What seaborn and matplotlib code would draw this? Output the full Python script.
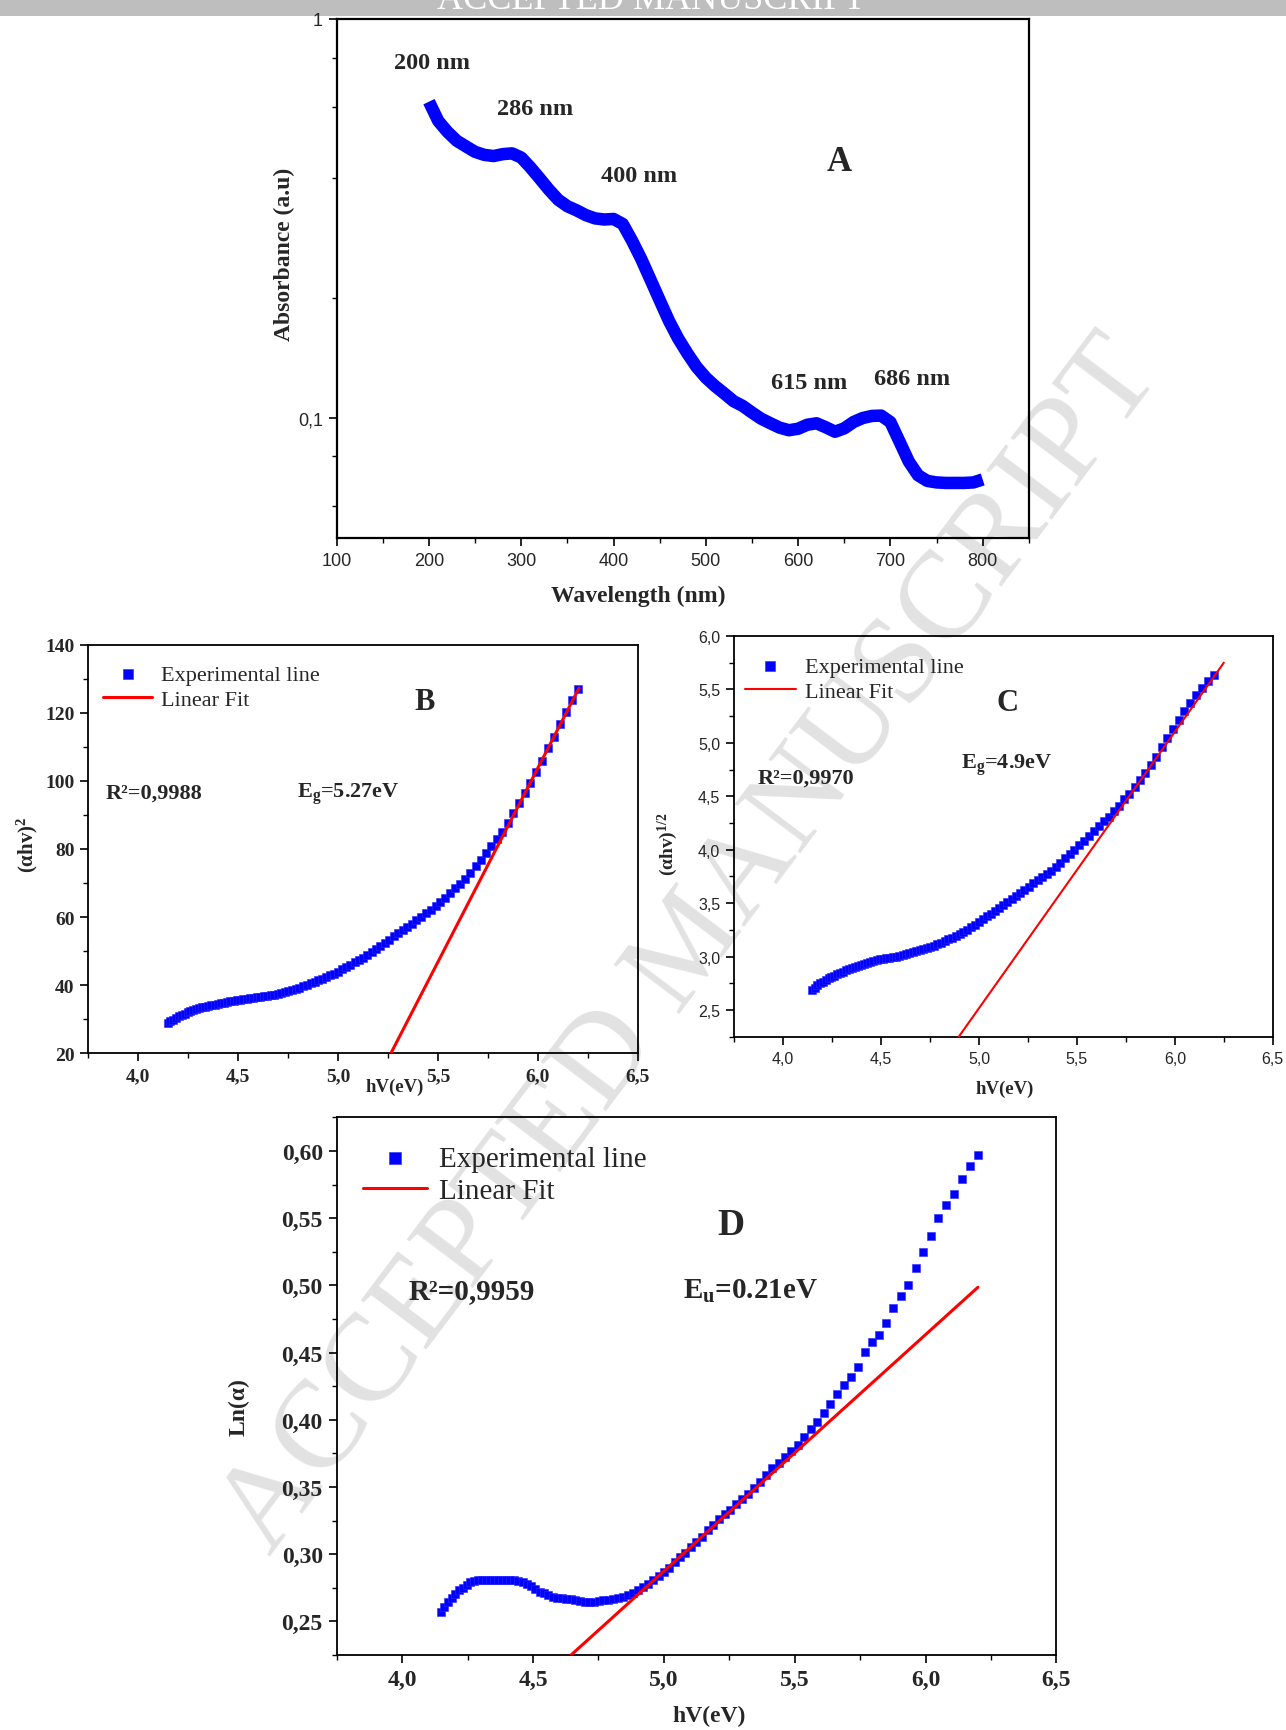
import numpy as np
import pandas as pd
import matplotlib
matplotlib.use("Agg")
import matplotlib.pyplot as plt
from matplotlib import ticker
import seaborn as sns

# ---------------- data ----------------
# Panel A : absorbance spectrum
A_wavelength = [200, 210, 220, 230, 240, 250, 260, 270, 280, 290,
                300, 310, 320, 330, 340, 350, 360, 370, 380, 390,
                400, 410, 420, 430, 440, 450, 460, 470, 480, 490,
                500, 510, 520, 530, 540, 550, 560, 570, 580, 590,
                600, 610, 620, 630, 640, 650, 660, 670, 680, 690,
                700, 710, 720, 730, 740, 750, 760, 770, 780, 790, 800]
A_absorbance = [0.620, 0.555, 0.521, 0.495, 0.479, 0.464, 0.456, 0.453, 0.458, 0.460,
                0.449, 0.424, 0.398, 0.373, 0.352, 0.339, 0.331, 0.322, 0.316, 0.314,
                0.315, 0.306, 0.278, 0.250, 0.222, 0.197, 0.175, 0.158, 0.145, 0.134,
                0.126, 0.120, 0.115, 0.110, 0.107, 0.103, 0.0994, 0.0968, 0.0944, 0.0930,
                0.0938, 0.0960, 0.0968, 0.0946, 0.0922, 0.0940, 0.0975, 0.0998, 0.1010, 0.1012,
                0.0975, 0.0870, 0.0776, 0.0717, 0.0694, 0.0688, 0.0686, 0.0686, 0.0686, 0.0688, 0.0700]
A_peaks = ["200 nm", "286 nm", "400 nm", "615 nm", "686 nm"]

# photon energies (eV) shared by panels B, C, D
energy = [4.147, 4.161, 4.175, 4.189, 4.203, 4.218, 4.232, 4.247, 4.261, 4.276,
          4.291, 4.306, 4.321, 4.336, 4.351, 4.366, 4.382, 4.397, 4.413, 4.429,
          4.444, 4.460, 4.477, 4.493, 4.509, 4.526, 4.542, 4.559, 4.576, 4.593,
          4.610, 4.627, 4.644, 4.662, 4.679, 4.697, 4.715, 4.733, 4.751, 4.769,
          4.788, 4.806, 4.825, 4.844, 4.863, 4.882, 4.901, 4.921, 4.940, 4.960,
          4.980, 5.000, 5.020, 5.041, 5.061, 5.082, 5.103, 5.124, 5.145, 5.167,
          5.188, 5.210, 5.232, 5.254, 5.277, 5.299, 5.322, 5.345, 5.368, 5.391,
          5.415, 5.439, 5.463, 5.487, 5.511, 5.536, 5.561, 5.586, 5.611, 5.636,
          5.662, 5.688, 5.714, 5.741, 5.767, 5.794, 5.822, 5.849, 5.877, 5.905,
          5.933, 5.962, 5.990, 6.019, 6.049, 6.078, 6.108, 6.139, 6.169, 6.200]

# Panel B : (alpha h v)^2
B_values = [28.9, 29.4, 29.9, 30.3, 30.8, 31.2, 31.6, 32.0, 32.3, 32.6,
            32.9, 33.2, 33.5, 33.7, 33.9, 34.1, 34.3, 34.5, 34.7, 34.8,
            35.0, 35.2, 35.4, 35.5, 35.7, 35.8, 36.0, 36.1, 36.3, 36.4,
            36.6, 36.7, 36.9, 37.0, 37.2, 37.4, 37.7, 38.0, 38.3, 38.6,
            38.9, 39.3, 39.7, 40.1, 40.6, 41.0, 41.4, 41.9, 42.4, 42.9,
            43.4, 44.0, 44.6, 45.3, 46.0, 46.7, 47.4, 48.1, 48.9, 49.8,
            50.6, 51.5, 52.4, 53.3, 54.3, 55.2, 56.2, 57.1, 58.0, 59.0,
            60.0, 61.1, 62.2, 63.3, 64.4, 65.7, 67.0, 68.4, 69.7, 71.2,
            73.0, 74.9, 76.8, 78.9, 80.8, 82.9, 85.0, 87.6, 90.5, 93.5,
            96.5, 99.4, 102.5, 106.0, 109.6, 113.0, 116.7, 120.3, 123.7, 127.0]
B_fit_x = [5.264, 6.205]
B_fit_y = [20.0, 127.3]

# Panel C : (alpha h v)^1/2
C_values = [2.690, 2.710, 2.730, 2.750, 2.765, 2.780, 2.795, 2.810, 2.820, 2.835,
            2.850, 2.860, 2.870, 2.880, 2.895, 2.905, 2.915, 2.925, 2.935, 2.940,
            2.950, 2.960, 2.965, 2.975, 2.980, 2.985, 2.990, 2.995, 3.000, 3.005,
            3.015, 3.020, 3.030, 3.040, 3.050, 3.060, 3.070, 3.080, 3.090, 3.100,
            3.115, 3.130, 3.145, 3.160, 3.175, 3.190, 3.210, 3.230, 3.250, 3.275,
            3.300, 3.325, 3.350, 3.375, 3.400, 3.430, 3.455, 3.480, 3.510, 3.540,
            3.565, 3.595, 3.625, 3.655, 3.685, 3.715, 3.745, 3.775, 3.805, 3.840,
            3.880, 3.920, 3.960, 4.000, 4.040, 4.085, 4.130, 4.175, 4.220, 4.265,
            4.310, 4.360, 4.410, 4.470, 4.525, 4.585, 4.655, 4.720, 4.795, 4.870,
            4.960, 5.045, 5.130, 5.215, 5.300, 5.375, 5.445, 5.515, 5.575, 5.635]
C_fit_x = [4.897, 6.250]
C_fit_y = [2.25, 5.75]

# Panel D : Ln(alpha)
D_values = [0.257, 0.261, 0.264, 0.267, 0.270, 0.273, 0.275, 0.277, 0.279, 0.280,
            0.2805, 0.281, 0.281, 0.281, 0.281, 0.281, 0.281, 0.281, 0.281, 0.2805,
            0.280, 0.279, 0.278, 0.276, 0.274, 0.272, 0.271, 0.2695, 0.268, 0.267,
            0.267, 0.2665, 0.2665, 0.266, 0.265, 0.2645, 0.264, 0.2645, 0.265, 0.2655,
            0.266, 0.2665, 0.267, 0.268, 0.2695, 0.271, 0.273, 0.2755, 0.278, 0.2805,
            0.284, 0.287, 0.290, 0.294, 0.2975, 0.301, 0.305, 0.309, 0.313, 0.318,
            0.322, 0.326, 0.330, 0.333, 0.337, 0.341, 0.345, 0.349, 0.354, 0.359,
            0.364, 0.368, 0.372, 0.377, 0.381, 0.387, 0.393, 0.398, 0.405, 0.412,
            0.419, 0.426, 0.432, 0.439, 0.4505, 0.458, 0.463, 0.472, 0.483, 0.492,
            0.5005, 0.513, 0.525, 0.537, 0.550, 0.560, 0.568, 0.579, 0.589, 0.597]
D_fit_x = [4.646, 6.200]
D_fit_y = [0.225, 0.4985]

# tick labels
A_xticks = [100, 200, 300, 400, 500, 600, 700, 800]
A_xticklabels = ["100", "200", "300", "400", "500", "600", "700", "800"]
A_yticks = [0.1, 1.0]
A_yticklabels = ["0,1", "1"]
E_ticks = [4.0, 4.5, 5.0, 5.5, 6.0, 6.5]
E_ticklabels = ["4,0", "4,5", "5,0", "5,5", "6,0", "6,5"]
B_yticks = [20, 40, 60, 80, 100, 120, 140]
B_yticklabels = ["20", "40", "60", "80", "100", "120", "140"]
C_yticks = [2.5, 3.0, 3.5, 4.0, 4.5, 5.0, 5.5, 6.0]
C_yticklabels = ["2,5", "3,0", "3,5", "4,0", "4,5", "5,0", "5,5", "6,0"]
D_yticks = [0.25, 0.30, 0.35, 0.40, 0.45, 0.50, 0.55, 0.60]
D_yticklabels = ["0,25", "0,30", "0,35", "0,40", "0,45", "0,50", "0,55", "0,60"]

# ---------------- style ----------------
sns.set_style("ticks")
SERIF = "Liberation Serif"
SANS = "Liberation Sans"
plt.rcParams["font.family"] = [SERIF, "DejaVu Serif"]
plt.rcParams["mathtext.fontset"] = "custom"
plt.rcParams["mathtext.rm"] = "Liberation Serif:bold"
plt.rcParams["mathtext.it"] = "Liberation Serif:bold"
plt.rcParams["mathtext.bf"] = "Liberation Serif:bold"

BLUE = "#0000ff"
RED = "#ff0000"

W, H = 1286, 1731
fig = plt.figure(figsize=(W / 100, H / 100), dpi=100)


def px_axes(left, right, top, bottom):
    ax = fig.add_axes([left / W, 1 - bottom / H, (right - left) / W, (bottom - top) / H])
    ax.set_zorder(2)
    ax.patch.set_facecolor("none")
    return ax


def setup(ax, xlim, ylim, xt, xtl, yt, ytl, xminor, yminor, fam, size, weight, spine_lw=1.3):
    ax.set_xlim(*xlim)
    ax.set_ylim(*ylim)
    ax.set_xticks(xt, labels=xtl, fontsize=size, fontfamily=fam, fontweight=weight)
    ax.set_yticks(yt, labels=ytl, fontsize=size, fontfamily=fam, fontweight=weight)
    ax.set_xticks(xminor, minor=True)
    ax.set_yticks(yminor, minor=True)
    ax.xaxis.set_minor_formatter(ticker.NullFormatter())
    ax.yaxis.set_minor_formatter(ticker.NullFormatter())
    for s in ax.spines.values():
        s.set_visible(True)
        s.set_linewidth(spine_lw)
        s.set_color("black")
    ax.tick_params(which="major", direction="out", length=6, width=1.2, color="black", pad=4)
    ax.tick_params(which="minor", direction="out", length=3.5, width=1.0, color="black")


def set_label(ax, axis, text, x, y, size):
    lab = ax.xaxis.label if axis == "x" else ax.yaxis.label
    if axis == "x":
        ax.set_xlabel(text, fontsize=size, fontweight="bold", fontfamily=SERIF)
        ax.xaxis.set_label_coords(x, y)
    else:
        ax.set_ylabel(text, fontsize=size, fontweight="bold", fontfamily=SERIF)
        ax.yaxis.set_label_coords(x, y)
    lab.set_va("center")
    lab.set_ha("center")


# ---------------- Panel A ----------------
axA = px_axes(336.7, 1028.8, 19.9, 538.7)
dfA = pd.DataFrame({"wl": A_wavelength, "abs": A_absorbance})
sns.lineplot(data=dfA, x="wl", y="abs", ax=axA, color=BLUE, lw=9,
             solid_joinstyle="round", solid_capstyle="butt")
axA.set_yscale("log")
setup(axA, (100, 850), (0.05, 1.0), A_xticks, A_xticklabels, A_yticks, A_yticklabels,
      np.arange(150, 851, 100), [0.06, 0.08, 0.2, 0.4, 0.6, 0.8], SANS, 13, "normal", 1.6)
set_label(axA, "x", "Wavelength (nm)", 0.435, -0.111, 17)
set_label(axA, "y", "Absorbance (a.u)", -0.075, 0.549, 17)
peak_pos = [(0.137, 0.915), (0.287, 0.828), (0.437, 0.698), (0.683, 0.300), (0.831, 0.306)]
for lab, (px, py) in zip(A_peaks, peak_pos):
    axA.text(px, py, lab, transform=axA.transAxes, ha="center", va="center",
             fontsize=17.5, fontweight="bold", fontfamily=SERIF)
axA.text(0.726, 0.7255, "A", transform=axA.transAxes, ha="center", va="center",
         fontsize=25, fontweight="bold", fontfamily=SERIF)


def energy_panel(ax, values, fit_x, fit_y, ylim, yt, ytl, yminor, tick_fam, tick_size,
                 tick_weight, msize, fit_lw, legend_anchor, legend_size, markerscale,
                 handlelength):
    df = pd.DataFrame({"E": energy, "v": values})
    sns.scatterplot(data=df, x="E", y="v", ax=ax, marker="s", s=msize, color=BLUE,
                    edgecolor="#2a2aff", linewidth=0.4, label="Experimental line", zorder=2)
    dff = pd.DataFrame({"E": fit_x, "v": fit_y})
    sns.lineplot(data=dff, x="E", y="v", ax=ax, color=RED, lw=fit_lw, label="Linear Fit",
                 zorder=3)
    setup(ax, (3.75, 6.5), ylim, E_ticks, E_ticklabels, yt, ytl,
          np.arange(3.75, 6.51, 0.25), yminor, tick_fam, tick_size, tick_weight)
    h, l = ax.get_legend_handles_labels()
    ax.legend(h, l, loc="upper left", bbox_to_anchor=legend_anchor, frameon=False,
              prop={"family": SERIF, "size": legend_size}, handlelength=handlelength,
              handletextpad=0.4, labelspacing=0.2, borderpad=0, borderaxespad=0,
              markerscale=markerscale)


# ---------------- Panel B ----------------
axB = px_axes(88.3, 638.0, 645.8, 1054.2)
energy_panel(axB, B_values, B_fit_x, B_fit_y, (20, 140), B_yticks, B_yticklabels,
             np.arange(20, 141, 10), SERIF, 14, "bold", 30, 2.2, (0.027, 0.952), 16, 1.3, 2.2)
set_label(axB, "x", "hV(eV)", 0.558, -0.081, 13.5)
set_label(axB, "y", "(αhv)$^{\\rm 2}$", -0.110, 0.512, 15)
axB.text(0.611, 0.862, "B", transform=axB.transAxes, ha="center", va="center",
         fontsize=22, fontweight="bold", fontfamily=SERIF)
axB.text(0.0306, 0.637, "R²=0,9988", transform=axB.transAxes, ha="left", va="center",
         fontsize=16, fontweight="bold", fontfamily=SERIF)
axB.text(0.380, 0.637, "E$_{\\rm g}$=5.27eV", transform=axB.transAxes, ha="left",
         va="center", fontsize=16, fontweight="bold", fontfamily=SERIF)

# ---------------- Panel C ----------------
axC = px_axes(734.1, 1272.8, 637.0, 1037.7)
energy_panel(axC, C_values, C_fit_x, C_fit_y, (2.25, 6.0), C_yticks, C_yticklabels,
             np.arange(2.25, 6.01, 0.25), SANS, 11.5, "normal", 32, 1.5, (0.020, 0.950), 16,
             1.3, 2.3)
set_label(axC, "x", "hV(eV)", 0.502, -0.129, 13.5)
set_label(axC, "y", "(αhv)$^{\\rm 1/2}$", -0.123, 0.482, 14)
axC.text(0.507, 0.833, "C", transform=axC.transAxes, ha="center", va="center",
         fontsize=22, fontweight="bold", fontfamily=SERIF)
axC.text(0.043, 0.647, "R²=0,9970", transform=axC.transAxes, ha="left", va="center",
         fontsize=16, fontweight="bold", fontfamily=SERIF)
axC.text(0.422, 0.680, "E$_{\\rm g}$=4.9eV", transform=axC.transAxes, ha="left",
         va="center", fontsize=16, fontweight="bold", fontfamily=SERIF)

# ---------------- Panel D ----------------
axD = px_axes(336.7, 1056.4, 1118.3, 1655.9)
energy_panel(axD, D_values, D_fit_x, D_fit_y, (0.225, 0.625), D_yticks, D_yticklabels,
             np.arange(0.225, 0.626, 0.025), SERIF, 17, "bold", 38, 2.2, (0.0365, 0.948), 21,
             1.4, 2.2)
set_label(axD, "x", "hV(eV)", 0.518, -0.112, 17)
set_label(axD, "y", "Ln(α)", -0.135, 0.462, 17)
axD.text(0.5476, 0.801, "D", transform=axD.transAxes, ha="center", va="center",
         fontsize=27, fontweight="bold", fontfamily=SERIF)
axD.text(0.0996, 0.678, "R²=0,9959", transform=axD.transAxes, ha="left", va="center",
         fontsize=21, fontweight="bold", fontfamily=SERIF)
axD.text(0.4816, 0.678, "E$_{\\rm u}$=0.21eV", transform=axD.transAxes, ha="left",
         va="center", fontsize=21, fontweight="bold", fontfamily=SERIF)

# ---------------- banner and watermark ----------------
fig.patches.append(plt.Rectangle((0, 1 - 17 / H), 1, 17 / H, transform=fig.transFigure,
                                 facecolor="#bebebe", edgecolor="none", zorder=0))
fig.text(651 / W, 1 - 9 / H, "ACCEPTED MANUSCRIPT", ha="center", va="baseline",
         fontsize=26, color="white", fontfamily=SERIF, zorder=1)
fig.text(692 / W, 1 - 947 / H, "ACCEPTED MANUSCRIPT", ha="center", va="center",
         rotation=53, fontsize=90, fontfamily=SERIF, color="#e2e2e2", zorder=0.5)

fig.savefig("out.png", dpi=100)
